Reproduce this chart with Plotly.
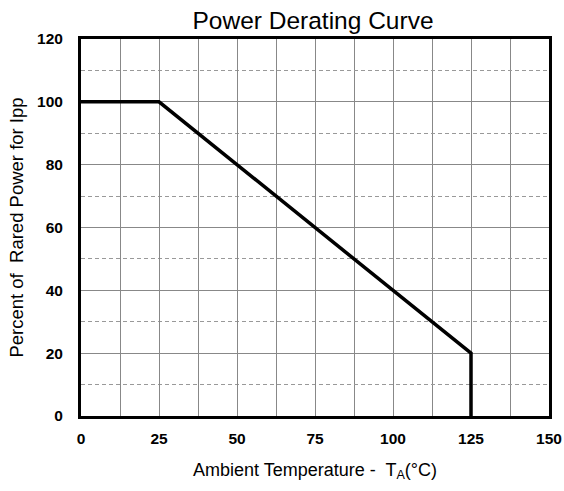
import plotly.graph_objects as go

# derating curve points
temp_c = [0, 25, 125, 125]
power_pct = [100, 100, 20, 0]

x_ticks = [0, 25, 50, 75, 100, 125, 150]
y_ticks = [0, 20, 40, 60, 80, 100, 120]

fig = go.Figure(go.Scatter(x=temp_c, y=power_pct, mode='lines',
                           line=dict(color='black', width=3.5),
                           showlegend=False, hoverinfo='skip'))

fig.update_layout(
    width=564, height=491,
    margin=dict(l=81, r=15, t=39, b=75, autoexpand=False),
    paper_bgcolor='white', plot_bgcolor='white',
    font=dict(family='Liberation Sans, Arial', color='black'),
    title=dict(text='Power Derating Curve', x=0.555, xanchor='center',
               y=0.958, yanchor='middle', font=dict(size=24.5, color='black')),
)

fig.update_xaxes(
    range=[0, 150], tickvals=x_ticks, automargin=False,
    tickfont=dict(size=15.5, family='Liberation Sans, Arial', weight='bold'),
    showgrid=True, gridcolor='#888888', gridwidth=1,
    minor=dict(dtick=12.5, showgrid=True, gridcolor='#888888', gridwidth=1),
    showline=True, linecolor='black', linewidth=3, mirror=True,
    ticks='', zeroline=False, ticklabelstandoff=6,
    title=dict(text='Ambient Temperature -  T<sub>A</sub>(°C)',
               font=dict(size=18), standoff=18),
)

fig.update_yaxes(
    range=[0, 120], tickvals=y_ticks, automargin=False,
    tickfont=dict(size=15.5, family='Liberation Sans, Arial', weight='bold'),
    showgrid=True, gridcolor='#888888', gridwidth=1,
    minor=dict(dtick=10, showgrid=True, gridcolor='#999999', gridwidth=1,
               griddash='4px,3px'),
    showline=True, linecolor='black', linewidth=3, mirror=True,
    ticks='', zeroline=False, ticklabelstandoff=12,
    title=dict(text='Percent of  Rared Power for Ipp',
               font=dict(size=18.5), standoff=9),
)

# drop the default page margin so the figure sits at the window corner
fig.write_html("out.html", config={'displayModeBar': False},
               post_script="document.body.style.margin='0';")
